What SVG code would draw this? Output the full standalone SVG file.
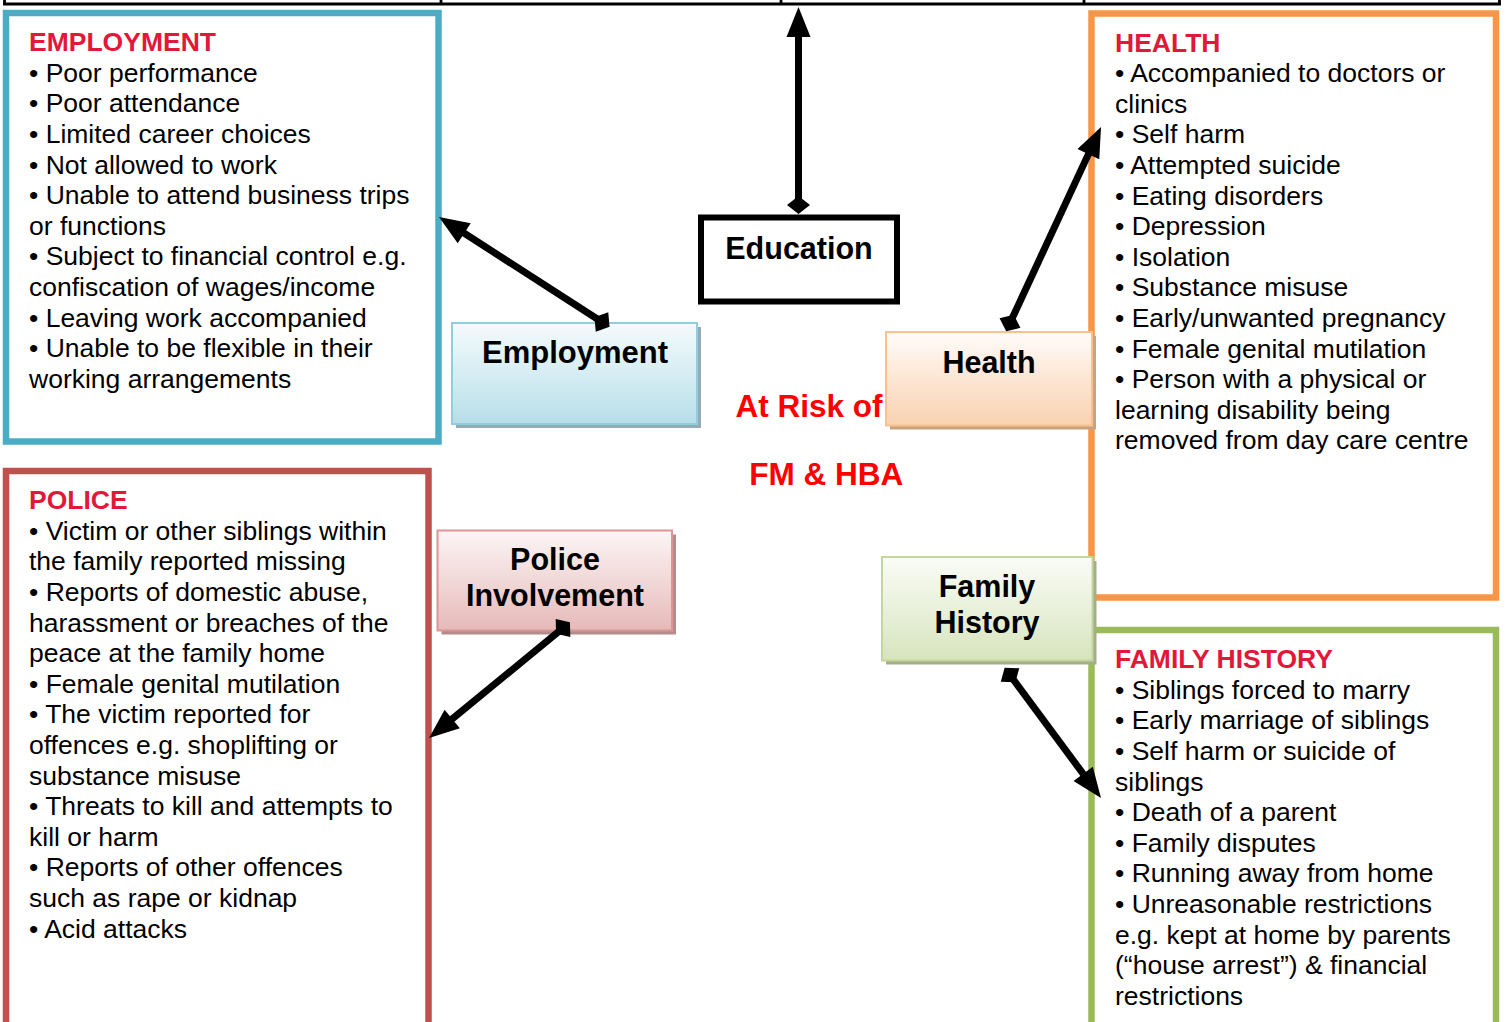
<svg xmlns="http://www.w3.org/2000/svg" width="1507" height="1022" viewBox="0 0 1507 1022">
<style>
  .box{fill:#fff;stroke-width:6.5}
  .hd{font-family:"Liberation Sans",Arial,sans-serif;font-weight:bold;font-size:26.5px;fill:#E2183A}
  .bd{font-family:"Liberation Sans",Arial,sans-serif;font-size:26.5px;fill:#000}
  .nl{font-family:"Liberation Sans",Arial,sans-serif;font-weight:bold;font-size:30.5px;fill:#000;text-anchor:middle}
  .red{font-family:"Liberation Sans",Arial,sans-serif;font-weight:bold;font-size:31.5px;fill:#FF0000}
  .con{stroke:#000;stroke-width:7;fill:none;marker-start:url(#dia);marker-end:url(#arr)}
  .tbl{stroke:#000;stroke-width:2.8;fill:none}
</style>
<defs>
  <marker id="arr" markerUnits="userSpaceOnUse" markerWidth="40" markerHeight="40" viewBox="-5 -20 40 40" refX="10" refY="0" orient="auto" overflow="visible">
    <path d="M0,-12 L30,0 L0,12 Z" fill="#000"/>
  </marker>
  <marker id="dia" markerUnits="userSpaceOnUse" markerWidth="30" markerHeight="30" viewBox="-15 -15 30 30" refX="0" refY="0" orient="auto" overflow="visible">
    <path d="M-9,0 L0,-11.5 L9,0 L0,11.5 Z" fill="#000"/>
  </marker>
  <linearGradient id="gBlue" x1="0" y1="0" x2="0" y2="1">
    <stop offset="0" stop-color="#F4FAFC"/>
    <stop offset="0.5" stop-color="#D6EDF3"/>
    <stop offset="1" stop-color="#B7DEE8"/>
  </linearGradient>
  <linearGradient id="gOrange" x1="0" y1="0" x2="0" y2="1">
    <stop offset="0" stop-color="#FFFCFA"/>
    <stop offset="0.5" stop-color="#FCE6D4"/>
    <stop offset="1" stop-color="#F9D2B2"/>
  </linearGradient>
  <linearGradient id="gRed" x1="0" y1="0" x2="0" y2="1">
    <stop offset="0" stop-color="#FCF5F5"/>
    <stop offset="0.5" stop-color="#F1D8D8"/>
    <stop offset="1" stop-color="#E6B9B8"/>
  </linearGradient>
  <linearGradient id="gGreen" x1="0" y1="0" x2="0" y2="1">
    <stop offset="0" stop-color="#FAFCF6"/>
    <stop offset="0.5" stop-color="#E9F0DB"/>
    <stop offset="1" stop-color="#D7E4BD"/>
  </linearGradient>
</defs>

<g id="table-edge">
  <line class="tbl" x1="3" y1="4" x2="1501" y2="4"/>
  <line class="tbl" x1="4.5" y1="0" x2="4.5" y2="5"/>
  <line class="tbl" x1="441" y1="0" x2="441" y2="5"/>
  <line class="tbl" x1="781" y1="0" x2="781" y2="5"/>
  <line class="tbl" x1="1084" y1="0" x2="1084" y2="5"/>
  <line class="tbl" x1="1499.5" y1="0" x2="1499.5" y2="5"/>
</g>

<g id="employment-list">
  <rect class="box" x="6" y="13" width="432.5" height="428.5" stroke="#4BACC6"/>
  <text class="hd" x="29" y="51">EMPLOYMENT</text>
  <text class="bd">
    <tspan x="29" y="81.7">• Poor performance</tspan>
    <tspan x="29" y="112.3">• Poor attendance</tspan>
    <tspan x="29" y="142.9">• Limited career choices</tspan>
    <tspan x="29" y="173.5">• Not allowed to work</tspan>
    <tspan x="29" y="204.1">• Unable to attend business trips</tspan>
    <tspan x="29" y="234.7">or functions</tspan>
    <tspan x="29" y="265.3">• Subject to financial control e.g.</tspan>
    <tspan x="29" y="295.9">confiscation of wages/income</tspan>
    <tspan x="29" y="326.5">• Leaving work accompanied</tspan>
    <tspan x="29" y="357.1">• Unable to be flexible in their</tspan>
    <tspan x="29" y="387.7">working arrangements</tspan>
  </text>
</g>

<g id="police-list">
  <rect class="box" x="6" y="471" width="422.5" height="570" stroke="#C0504D"/>
  <text class="hd" x="29" y="509">POLICE</text>
  <text class="bd">
    <tspan x="29" y="539.7">• Victim or other siblings within</tspan>
    <tspan x="29" y="570.3">the family reported missing</tspan>
    <tspan x="29" y="600.9">• Reports of domestic abuse,</tspan>
    <tspan x="29" y="631.5">harassment or breaches of the</tspan>
    <tspan x="29" y="662.1">peace at the family home</tspan>
    <tspan x="29" y="692.7">• Female genital mutilation</tspan>
    <tspan x="29" y="723.3">• The victim reported for</tspan>
    <tspan x="29" y="753.9">offences e.g. shoplifting or</tspan>
    <tspan x="29" y="784.5">substance misuse</tspan>
    <tspan x="29" y="815.1">• Threats to kill and attempts to</tspan>
    <tspan x="29" y="845.7">kill or harm</tspan>
    <tspan x="29" y="876.3">• Reports of other offences</tspan>
    <tspan x="29" y="906.9">such as rape or kidnap</tspan>
    <tspan x="29" y="937.5">• Acid attacks</tspan>
  </text>
</g>

<g id="health-list">
  <rect class="box" x="1091.5" y="13.5" width="404.5" height="584" stroke="#F79646"/>
  <text class="hd" x="1115" y="51.5">HEALTH</text>
  <text class="bd">
    <tspan x="1115" y="82.2">• Accompanied to doctors or</tspan>
    <tspan x="1115" y="112.8">clinics</tspan>
    <tspan x="1115" y="143.4">• Self harm</tspan>
    <tspan x="1115" y="174">• Attempted suicide</tspan>
    <tspan x="1115" y="204.6">• Eating disorders</tspan>
    <tspan x="1115" y="235.2">• Depression</tspan>
    <tspan x="1115" y="265.8">• Isolation</tspan>
    <tspan x="1115" y="296.4">• Substance misuse</tspan>
    <tspan x="1115" y="327">• Early/unwanted pregnancy</tspan>
    <tspan x="1115" y="357.6">• Female genital mutilation</tspan>
    <tspan x="1115" y="388.2">• Person with a physical or</tspan>
    <tspan x="1115" y="418.8">learning disability being</tspan>
    <tspan x="1115" y="449.4">removed from day care centre</tspan>
  </text>
</g>

<g id="family-list">
  <rect class="box" x="1091.5" y="630" width="404.5" height="420" stroke="#9BBB59"/>
  <text class="hd" x="1115" y="668">FAMILY HISTORY</text>
  <text class="bd">
    <tspan x="1115" y="698.7">• Siblings forced to marry</tspan>
    <tspan x="1115" y="729.3">• Early marriage of siblings</tspan>
    <tspan x="1115" y="759.9">• Self harm or suicide of</tspan>
    <tspan x="1115" y="790.5">siblings</tspan>
    <tspan x="1115" y="821.1">• Death of a parent</tspan>
    <tspan x="1115" y="851.7">• Family disputes</tspan>
    <tspan x="1115" y="882.3">• Running away from home</tspan>
    <tspan x="1115" y="912.9">• Unreasonable restrictions</tspan>
    <tspan x="1115" y="943.5">e.g. kept at home by parents</tspan>
    <tspan x="1115" y="974.1">(“house arrest”) &amp; financial</tspan>
    <tspan x="1115" y="1004.7">restrictions</tspan>
  </text>
</g>

<g id="node-education">
  <rect x="701" y="217.5" width="196" height="84" fill="#fff" stroke="#000" stroke-width="6"/>
  <text class="nl" x="799" y="259">Education</text>
</g>

<g id="node-employment">
  <rect x="456" y="327" width="245" height="101" fill="#93ABB3"/>
  <rect x="452" y="323" width="245" height="101" fill="url(#gBlue)" stroke="#93CDDD" stroke-width="2"/>
  <text class="nl" x="575" y="363" style="font-size:31px">Employment</text>
</g>

<g id="node-health">
  <rect x="890" y="336" width="206" height="93.5" fill="#C9A27F"/>
  <rect x="886" y="332" width="206" height="93.5" fill="url(#gOrange)" stroke="#FAC08F" stroke-width="2"/>
  <text class="nl" x="989" y="373">Health</text>
</g>

<g id="node-police">
  <rect x="441.5" y="534.5" width="234.5" height="100" fill="#B38C8B"/>
  <rect x="437.5" y="530.5" width="234.5" height="100" fill="url(#gRed)" stroke="#D99694" stroke-width="2"/>
  <text class="nl" x="555" y="570">Police</text>
  <text class="nl" x="555" y="606">Involvement</text>
</g>

<g id="node-family">
  <rect x="886" y="561" width="210.5" height="103.5" fill="#A3AE8A"/>
  <rect x="882" y="557" width="210.5" height="103.5" fill="url(#gGreen)" stroke="#C3D69B" stroke-width="2"/>
  <text class="nl" x="987" y="597">Family</text>
  <text class="nl" x="987" y="633">History</text>
</g>

<g id="center-label">
  <text class="red" x="735.5" y="416.7">At Risk of</text>
  <text class="red" x="749.3" y="485">FM &amp; HBA</text>
</g>

<g id="connectors">
  <line class="con" x1="798.5" y1="205" x2="798.5" y2="27"/>
  <line class="con" x1="602" y1="322" x2="455.8" y2="227.8"/>
  <line class="con" x1="1010" y1="323" x2="1092.6" y2="145.1"/>
  <line class="con" x1="563" y1="628" x2="444.5" y2="725.3"/>
  <line class="con" x1="1010" y1="675" x2="1089.1" y2="781.9"/>
</g>
</svg>
